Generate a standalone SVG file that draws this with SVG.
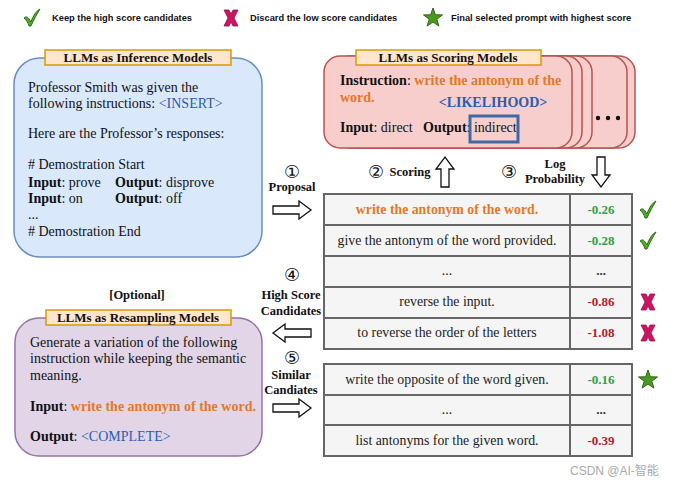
<svg xmlns="http://www.w3.org/2000/svg" width="686" height="483" viewBox="0 0 686 483">
<style>
.body{font-family:"Liberation Serif",serif;font-size:14px;fill:#111;}
.lbl{font-family:"Liberation Serif",serif;font-size:13px;font-weight:bold;fill:#111;text-anchor:middle;}
.lblbox{fill:#ffe6cc;stroke:#d79b00;stroke-width:1.5;}
.cell{fill:#f5f5f5;stroke:#666;stroke-width:2;}
.ct{font-family:"Liberation Serif",serif;font-size:13.8px;fill:#222;text-anchor:middle;}
.val{font-family:"Liberation Serif",serif;font-size:13px;font-weight:bold;text-anchor:middle;}
.g{fill:#2ea043;}
.r{fill:#b0202a;}
.or{fill:#e07a2a;font-weight:bold;}
.bl{fill:#2a5db0;}
.b{font-weight:bold;}
.arr{fill:#fff;stroke:#111;stroke-width:1.3;}
.al{font-family:"Liberation Serif",serif;font-size:12.5px;font-weight:bold;fill:#111;text-anchor:middle;}
.num{font-family:"DejaVu Sans","Noto Sans CJK SC",sans-serif;font-size:18px;fill:#111;text-anchor:middle;}
.leg{font-family:"Liberation Sans",Arial,sans-serif;font-size:9.3px;font-weight:bold;fill:#111;}
.card{fill:#f8cecc;stroke:#b85450;stroke-width:1.5;}
</style>
<defs>
<path id="chk" d="M-8,0 C-6,-2 -4,-1 -3,1 L-1,4 C1,-2 4,-7 8,-9 C5,-4 2,1 -1,8 L-3,8 C-4,4 -6,2 -8,0 Z" fill="#4caf28" stroke="#2d6b12" stroke-width="1"/>
<g id="xm">
<path d="M-7,-8 L-2,-8 L0,-4 L2,-8 L7,-8 L3,0 L7,8 L2,8 L0,4 L-2,8 L-7,8 L-3,0 Z" fill="#cc1560" stroke="#9c0c47" stroke-width="0.8"/>
</g>
<polygon id="star" points="0,-10 2.4,-3.2 9.5,-3.1 3.8,1.2 5.9,8.1 0,4 -5.9,8.1 -3.8,1.2 -9.5,-3.1 -2.4,-3.2" fill="#4a9a22" stroke="#2d6a10" stroke-width="1"/>
</defs>

<g id="legend">
<use href="#chk" x="32" y="18"/>
<text class="leg" x="52" y="21">Keep the high score candidates</text>
<use href="#xm" x="231" y="18"/>
<text class="leg" x="250" y="21">Discard the low score candidates</text>
<use href="#star" x="433" y="18"/>
<text class="leg" x="451" y="21">Final selected prompt with highest score</text>
</g>

<g id="inference">
<rect x="14" y="58" width="248" height="199" rx="26" fill="#dae8fc" stroke="#6c8ebf" stroke-width="1.5"/>
<rect class="lblbox" x="45" y="50" width="186" height="15"/>
<text class="lbl" x="138" y="62">LLMs as Inference Models</text>
<text class="body" x="28" y="92">Professor Smith was given the</text>
<text class="body" x="28" y="108">following instructions: <tspan class="bl">&lt;INSERT&gt;</tspan></text>
<text class="body" x="28" y="138">Here are the Professor’s responses:</text>
<text class="body" x="28" y="169"># Demostration Start</text>
<text class="body" x="28" y="187"><tspan class="b">Input</tspan>: prove</text>
<text class="body" x="115" y="187"><tspan class="b">Output</tspan>: disprove</text>
<text class="body" x="28" y="203"><tspan class="b">Input</tspan>: on</text>
<text class="body" x="115" y="203"><tspan class="b">Output</tspan>: off</text>
<text class="body" x="28" y="219">...</text>
<text class="body" x="28" y="236"># Demostration End</text>
</g>

<g id="scoring">
<rect class="card" x="387" y="56" width="248" height="92" rx="16"/>
<rect class="card" x="379" y="56" width="248" height="92" rx="16"/>
<rect class="card" x="344" y="56" width="248" height="92" rx="16"/>
<rect class="card" x="334" y="56" width="248" height="92" rx="16"/>
<rect class="card" x="324" y="56" width="248" height="92" rx="16"/>
<circle cx="598" cy="118" r="2.2" fill="#111"/>
<circle cx="608" cy="118" r="2.2" fill="#111"/>
<circle cx="618" cy="118" r="2.2" fill="#111"/>
<rect class="lblbox" x="356" y="50" width="185" height="15"/>
<text class="lbl" x="448" y="62">LLMs as Scoring Models</text>
<text class="body" x="340" y="85"><tspan class="b">Instruction</tspan>: <tspan class="or">write the antonym of the</tspan></text>
<text class="body" x="340" y="102"><tspan class="or">word.</tspan></text>
<text class="body b bl" x="493" y="107" text-anchor="middle">&lt;LIKELIHOOD&gt;</text>
<text class="body" x="340" y="132"><tspan class="b">Input</tspan>: direct</text>
<text class="body" x="423" y="132"><tspan class="b">Output</tspan>: indirect</text>
<rect x="470" y="116" width="48" height="26" fill="none" stroke="#3d6aa3" stroke-width="3"/>
</g>

<g id="table1">
<rect class="cell" x="324" y="194" width="246" height="31"/>
<rect class="cell" x="570" y="194" width="62" height="31"/>
<rect class="cell" x="324" y="225" width="246" height="31"/>
<rect class="cell" x="570" y="225" width="62" height="31"/>
<rect class="cell" x="324" y="256" width="246" height="31"/>
<rect class="cell" x="570" y="256" width="62" height="31"/>
<rect class="cell" x="324" y="287" width="246" height="31"/>
<rect class="cell" x="570" y="287" width="62" height="31"/>
<rect class="cell" x="324" y="318" width="246" height="31"/>
<rect class="cell" x="570" y="318" width="62" height="31"/>
<text class="ct or" x="447" y="214">write the antonym of the word.</text>
<text class="val g" x="601" y="214">-0.26</text>
<text class="ct" x="447" y="245">give the antonym of the word provided.</text>
<text class="val g" x="601" y="245">-0.28</text>
<text class="ct" x="447" y="275" fill="#666">...</text>
<text class="val" x="601" y="275" fill="#333">...</text>
<text class="ct" x="447" y="306">reverse the input.</text>
<text class="val r" x="601" y="306">-0.86</text>
<text class="ct" x="447" y="337">to reverse the order of the letters</text>
<text class="val r" x="601" y="337">-1.08</text>
</g>

<g id="table2">
<rect class="cell" x="324" y="364" width="246" height="31"/>
<rect class="cell" x="570" y="364" width="62" height="31"/>
<rect class="cell" x="324" y="395" width="246" height="30"/>
<rect class="cell" x="570" y="395" width="62" height="30"/>
<rect class="cell" x="324" y="425" width="246" height="31"/>
<rect class="cell" x="570" y="425" width="62" height="31"/>
<text class="ct" x="447" y="384">write the opposite of the word given.</text>
<text class="val g" x="601" y="384">-0.16</text>
<text class="ct" x="447" y="414" fill="#666">...</text>
<text class="val" x="601" y="414" fill="#333">...</text>
<text class="ct" x="447" y="445">list antonyms for the given word.</text>
<text class="val r" x="601" y="445">-0.39</text>
</g>

<g id="marks">
<use href="#chk" x="648" y="210"/>
<use href="#chk" x="648" y="241"/>
<use href="#xm" x="648" y="302"/>
<use href="#xm" x="648" y="333"/>
<use href="#star" x="648" y="380"/>
</g>

<g id="resampling">
<text class="al" x="137" y="299">[Optional]</text>
<rect x="15" y="318" width="247" height="138" rx="24" fill="#e1d5e7" stroke="#9673a6" stroke-width="1.5"/>
<rect class="lblbox" x="46" y="310" width="185" height="15"/>
<text class="lbl" x="138" y="322">LLMs as Resampling Models</text>
<text class="body" x="30" y="347">Generate a variation of the following</text>
<text class="body" x="30" y="363">instruction while keeping the semantic</text>
<text class="body" x="30" y="380">meaning.</text>
<text class="body" x="30" y="411"><tspan class="b">Input</tspan>: <tspan class="or">write the antonym of the word.</tspan></text>
<text class="body" x="30" y="441"><tspan class="b">Output</tspan>: <tspan class="bl">&lt;COMPLETE&gt;</tspan></text>
</g>

<g id="connectors">
<text class="num" x="292" y="178">①</text>
<text class="al" x="292" y="191">Proposal</text>
<path class="arr" d="M273,206 L299,206 L299,201 L311,210 L299,219 L299,214 L273,214 Z"/>
<text class="num" x="376" y="178">②</text>
<text class="al" x="410" y="176">Scoring</text>
<path class="arr" d="M441,187 L441,169 L436,169 L445,157 L454,169 L449,169 L449,187 Z"/>
<text class="num" x="509" y="178">③</text>
<text class="al" x="555" y="168">Log</text>
<text class="al" x="555" y="183">Probability</text>
<path class="arr" d="M597,157 L597,175 L592,175 L601,187 L610,175 L605,175 L605,157 Z"/>
<text class="num" x="292" y="281">④</text>
<text class="al" x="291" y="299">High Score</text>
<text class="al" x="291" y="315">Candidates</text>
<path class="arr" d="M311,329 L285,329 L285,324 L273,333 L285,342 L285,337 L311,337 Z"/>
<text class="num" x="292" y="364">⑤</text>
<text class="al" x="291" y="379">Similar</text>
<text class="al" x="291" y="394">Candiates</text>
<path class="arr" d="M273,404 L299,404 L299,399 L311,408 L299,417 L299,412 L273,412 Z"/>
</g>

<text x="570" y="475" font-family="Liberation Sans,'Noto Sans CJK SC',sans-serif" font-size="12" fill="#aaa">CSDN @AI-智能</text>
</svg>
